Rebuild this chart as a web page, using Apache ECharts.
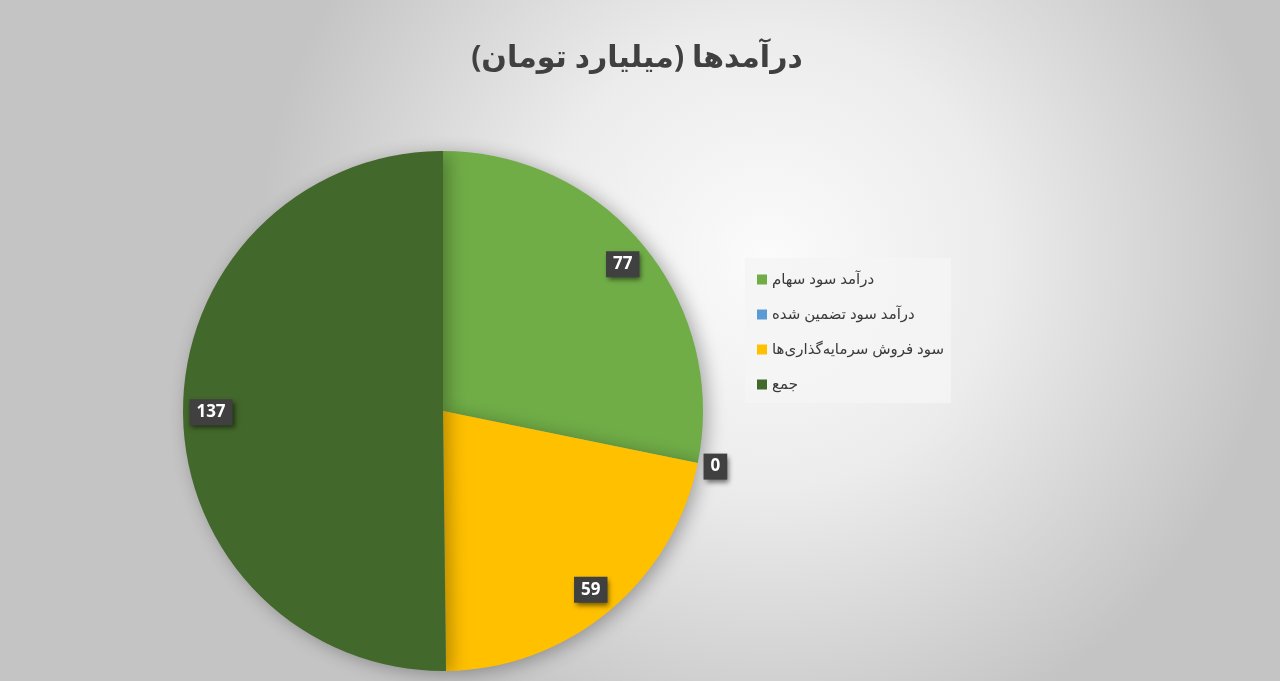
<!DOCTYPE html>
<html>
<head>
<meta charset="utf-8">
<script src="https://cdn.jsdelivr.net/npm/echarts@6/dist/echarts.min.js"></script>
<style>
html,body{margin:0;padding:0;width:1280px;height:681px;overflow:hidden;}
#c{width:1280px;height:681px;}
</style>
</head>
<body>
<div id="c"></div>
<script>
const titleText = 'درآمدها (میلیارد تومان)';
const categories = ['درآمد سود سهام', 'درآمد سود تضمین شده', 'سود فروش سرمایه‌گذاری‌ها', 'جمع'];
const values = [77, 0, 59, 137];
const colors = ['#70AD47', '#5B9BD5', '#FFC000', '#43682B'];

const chart = echarts.init(document.getElementById('c'));
const arabicFont = '"Noto Sans", "DejaVu Sans", sans-serif';
const CX = 443, CY = 411, R = 260;

const pieData = categories.map((n, i) => ({ name: n, value: values[i], itemStyle: { color: colors[i] } }));

const labelStyle = {
  show: true,
  position: 'inside',
  formatter: '{c}',
  color: '#ffffff',
  fontSize: 17,
  fontWeight: 'bold',
  fontFamily: '"Open Sans", "DejaVu Sans", sans-serif',
  backgroundColor: '#404040',
  padding: [5, 7, 4, 7],
  shadowColor: 'rgba(0,0,0,0.55)',
  shadowBlur: 5,
  shadowOffsetX: 2,
  shadowOffsetY: 3
};

function labelSeries(radius, keep) {
  return {
    type: 'pie',
    silent: true,
    center: [CX, CY],
    radius: [0, radius],
    startAngle: 90,
    clockwise: true,
    avoidLabelOverlap: false,
    minShowLabelAngle: 0,
    z: 5,
    itemStyle: { color: 'rgba(0,0,0,0)', borderWidth: 0 },
    labelLine: { show: false },
    emphasis: { disabled: true },
    data: categories.map((n, i) => ({
      name: n + '_lbl',
      value: values[i],
      label: Object.assign({}, labelStyle, { show: keep(values[i]) })
    }))
  };
}

chart.setOption({
  backgroundColor: {
    type: 'radial', x: 0.6, y: 0.38, r: 0.75,
    colorStops: [
      { offset: 0, color: '#fbfbfb' },
      { offset: 0.45, color: '#ececec' },
      { offset: 1, color: '#c4c4c4' }
    ]
  },
  title: {
    text: titleText,
    left: 632, top: 38, textAlign: 'center',
    textStyle: { fontSize: 30, fontWeight: 'bold', color: '#404040', fontFamily: arabicFont }
  },
  legend: {
    orient: 'vertical',
    left: 745, top: 258,
    itemWidth: 10, itemHeight: 10,
    itemGap: 20,
    icon: 'rect',
    backgroundColor: 'rgba(245,245,245,0.85)',
    padding: [14, 7, 11, 12],
    data: categories,
    textStyle: { fontSize: 15, color: '#3a3a3a', fontFamily: arabicFont }
  },
  series: [
    {
      type: 'pie',
      center: [CX, CY],
      radius: [0, R],
      startAngle: 90,
      clockwise: true,
      silent: true,
      label: { show: false },
      labelLine: { show: false },
      itemStyle: {
        borderWidth: 0,
        shadowBlur: 18,
        shadowColor: 'rgba(0,0,0,0.3)',
        shadowOffsetX: 5,
        shadowOffsetY: 3
      },
      data: pieData
    },
    labelSeries(458, v => v > 0),
    labelSeries(550, v => v === 0)
  ]
});
</script>
</body>
</html>
